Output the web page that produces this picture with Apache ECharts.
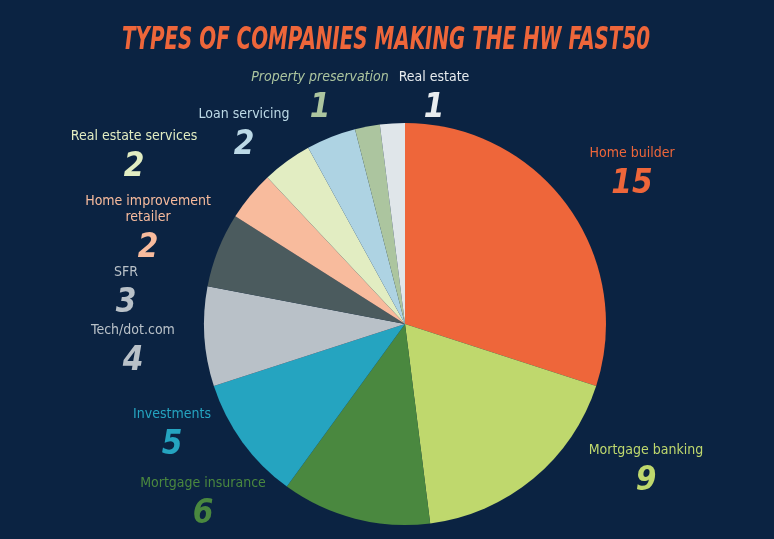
<!DOCTYPE html>
<html>
<head>
<meta charset="utf-8">
<script src="https://cdn.jsdelivr.net/npm/echarts@6/dist/echarts.min.js"></script>
<style>
  html, body { margin: 0; padding: 0; background: #0b2342; }
  #chart { width: 774px; height: 539px; }
</style>
</head>
<body>
<div id="chart"></div>
<script>
const TITLE = 'TYPES OF COMPANIES MAKING THE HW FAST50'
const CATEGORIES = [
  'Home builder', 'Mortgage banking', 'Mortgage insurance', 'Investments',
  'Tech/dot.com', 'SFR', 'Home improvement\nretailer', 'Real estate services',
  'Loan servicing', 'Property preservation', 'Real estate'
]
const VALUES = [15, 9, 6, 5, 4, 3, 2, 2, 2, 1, 1]

const SLICE_COLORS = [
  '#ee663a', '#bfd86d', '#4a883f', '#25a4c0', '#b9c1c8', '#4b5b5e',
  '#f8bb9d', '#e2edc2', '#aed3e3', '#acc59f', '#e0e6ea'
]
const TEXT_COLORS = [
  '#ee663a', '#bfd86d', '#4a883f', '#25a4c0', '#b9c1c8', '#b9c1c8',
  '#f8bb9d', '#e2edc2', '#bcd9e6', '#acc59f', '#e8ecef'
]

// label block centres (page pixels)
const LABEL_POS = [
  [632, 176], [646, 473], [203, 506], [172, 437], [133, 353], [126, 295],
  [148, 232], [134, 159], [244, 137], [320, 100], [434, 100]
]

const chart = echarts.init(document.getElementById('chart'))

const data = CATEGORIES.map((name, i) => ({
  name: name,
  value: VALUES[i],
  itemStyle: { color: SLICE_COLORS[i] },
  label: {
    rich: {
      n: {
        color: TEXT_COLORS[i],
        fontFamily: 'DejaVu Sans Condensed',
        fontSize: 14,
        fontStyle: i === 9 ? 'italic' : 'normal',
        lineHeight: 16,
        align: 'center'
      },
      v: {
        color: TEXT_COLORS[i],
        fontFamily: 'DejaVu Sans Condensed',
        fontSize: 33,
        fontWeight: 'bold',
        fontStyle: 'italic',
        lineHeight: 46,
        align: 'center'
      }
    }
  }
}))

const option = {
  backgroundColor: '#0b2342',
  animation: false,
  graphic: [{
    type: 'text',
    x: 386,
    y: 41,
    scaleX: 0.69,
    style: {
      text: TITLE,
      fill: '#ee663a',
      font: 'italic bold 32px "DejaVu Sans Condensed"',
      align: 'center',
      verticalAlign: 'middle'
    }
  }],
  series: [{
    type: 'pie',
    center: [405, 324],
    radius: 201,
    startAngle: 90,
    clockwise: true,
    data: data,
    itemStyle: { borderWidth: 0 },
    label: {
      show: true,
      position: 'outside',
      formatter: p => '{n|' + p.name.split('\n').join('}\n{n|') + '}\n{v|' + p.value + '}'
    },
    labelLine: { show: false },
    labelLayout: params => ({
      x: LABEL_POS[params.dataIndex][0],
      y: LABEL_POS[params.dataIndex][1],
      align: 'center',
      verticalAlign: 'middle'
    })
  }]
}

chart.setOption(option)
</script>
</body>
</html>
